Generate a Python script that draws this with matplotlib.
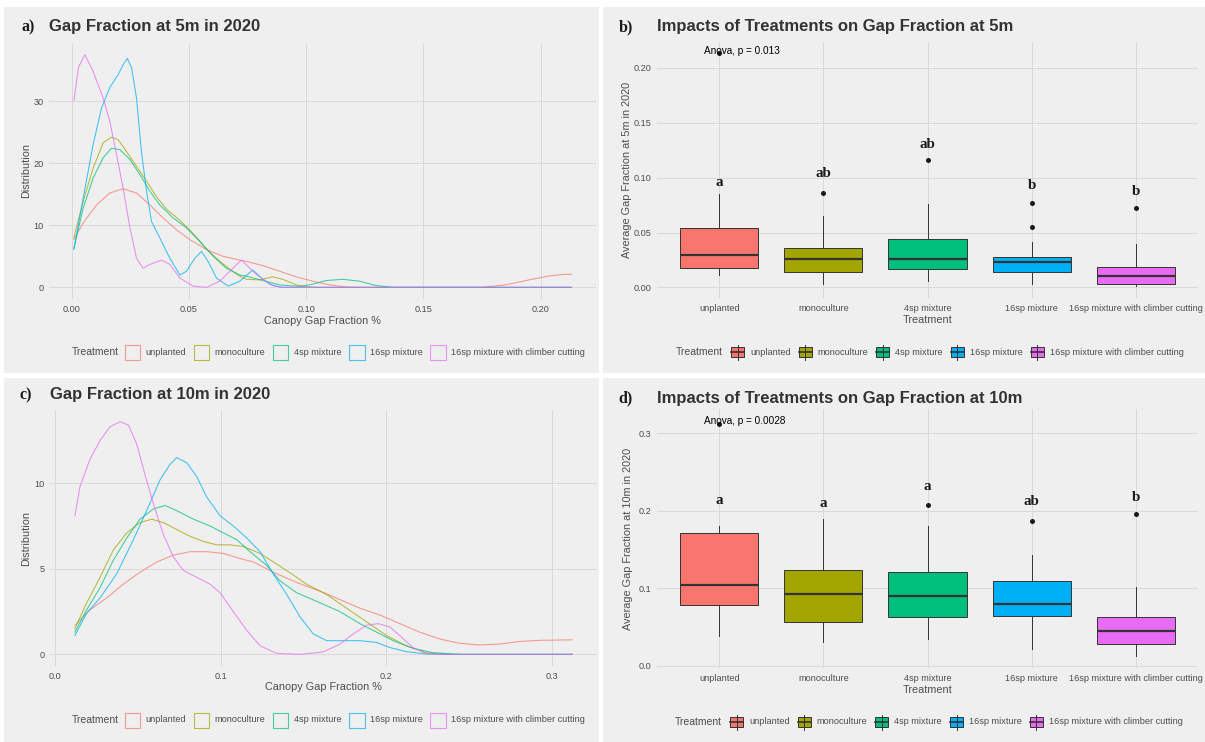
import matplotlib
matplotlib.use("Agg")
import matplotlib.pyplot as plt
from matplotlib.patches import Rectangle
from matplotlib.lines import Line2D

plt.rcParams['font.family'] = ['Liberation Sans', 'DejaVu Sans']

# ---------------- data ----------------
treatments = ['unplanted', 'monoculture', '4sp mixture', '16sp mixture',
              '16sp mixture with climber cutting']
colors = ['#F8766D', '#A3A500', '#00BF7D', '#00B0F6', '#E76BF3']

# density curves, gap fraction at 5m (x = gap fraction, y = density)
dens5_unplanted = [(0.001, 7.7), (0.005, 10.4), (0.0107, 13.3), (0.0163, 15.2), (0.022, 15.9),
                   (0.0277, 15.2), (0.0334, 13.3), (0.039, 11.2), (0.0447, 9.3), (0.0504, 7.7),
                   (0.0575, 6.1), (0.0646, 5.0), (0.0717, 4.4), (0.0745, 4.2), (0.0816, 3.5),
                   (0.0887, 2.6), (0.0958, 1.7), (0.1028, 1.0), (0.11, 0.4), (0.117, 0.05),
                   (0.125, 0.0), (0.175, 0.0), (0.185, 0.4), (0.195, 1.2), (0.203, 1.8),
                   (0.21, 2.1), (0.213, 2.1)]
dens5_mono = [(0.001, 8.0), (0.005, 13.9), (0.0092, 19.2), (0.0135, 23.3), (0.017, 24.2),
              (0.0199, 23.8), (0.0234, 21.9), (0.0277, 19.5), (0.032, 17.1), (0.0362, 14.6),
              (0.0405, 12.6), (0.0462, 10.8), (0.0518, 8.7), (0.0575, 6.2), (0.0632, 4.2),
              (0.0689, 2.5), (0.0717, 1.8), (0.0745, 1.3), (0.0802, 1.2), (0.0858, 1.7),
              (0.09, 1.3), (0.0958, 0.4), (0.10, 0.1), (0.105, 0.0), (0.213, 0.0)]
dens5_4sp = [(0.001, 6.3), (0.005, 12.8), (0.0092, 17.6), (0.0135, 20.9), (0.017, 22.4),
             (0.0206, 22.2), (0.0249, 20.6), (0.0291, 18.2), (0.0334, 15.5), (0.0376, 13.3),
             (0.0433, 11.2), (0.049, 9.6), (0.0547, 7.4), (0.0604, 5.0), (0.066, 3.1),
             (0.0717, 2.0), (0.0745, 1.8), (0.0816, 1.1), (0.0887, 0.4), (0.0972, 0.15),
             (0.1028, 0.5), (0.1085, 1.1), (0.1156, 1.3), (0.1227, 1.0), (0.1297, 0.3),
             (0.137, 0.0), (0.213, 0.0)]
dens5_16sp = [(0.001, 6.1), (0.005, 14.4), (0.0092, 23.0), (0.0128, 28.9), (0.0163, 32.2),
              (0.0199, 34.3), (0.0222, 36.0), (0.0238, 36.9), (0.0256, 35.4), (0.0277, 30.5),
              (0.0298, 21.9), (0.032, 15.5), (0.0341, 10.6), (0.0376, 8.0), (0.0419, 4.7),
              (0.0462, 2.0), (0.049, 2.6), (0.0526, 4.7), (0.0554, 5.8), (0.0582, 4.2),
              (0.0618, 1.5), (0.0668, 0.2), (0.0717, 1.0), (0.0773, 2.8), (0.0816, 1.3),
              (0.0858, 0.3), (0.09, 0.0), (0.213, 0.0)]
dens5_climber = [(0.001, 30.1), (0.003, 35.5), (0.0057, 37.5), (0.0092, 34.8), (0.0135, 30.5),
                 (0.0163, 26.8), (0.0192, 21.4), (0.022, 16.0), (0.0249, 9.6), (0.0277, 4.7),
                 (0.0305, 3.1), (0.0334, 3.7), (0.0384, 4.4), (0.0419, 3.7), (0.0462, 1.5),
                 (0.0518, 0.2), (0.0575, 0.0), (0.0632, 1.0), (0.0689, 3.1), (0.0724, 4.4),
                 (0.0788, 2.1), (0.0844, 0.5), (0.0887, 0.05), (0.095, 0.0), (0.213, 0.0)]

# density curves, gap fraction at 10m
dens10_unplanted = [(0.012, 1.7), (0.0211, 2.6), (0.0312, 3.3), (0.0412, 4.1), (0.0513, 4.8),
                    (0.0614, 5.4), (0.0714, 5.8), (0.0815, 6.0), (0.0915, 6.0), (0.1016, 5.9),
                    (0.1117, 5.6), (0.1197, 5.4), (0.1317, 4.8), (0.1458, 4.2), (0.1598, 3.7),
                    (0.1719, 3.2), (0.1839, 2.7), (0.196, 2.3), (0.208, 1.8), (0.22, 1.3),
                    (0.232, 0.9), (0.244, 0.65), (0.256, 0.55), (0.268, 0.6), (0.28, 0.75),
                    (0.292, 0.82), (0.312, 0.85)]
dens10_mono = [(0.012, 1.5), (0.0191, 3.0), (0.0272, 4.5), (0.0352, 6.1), (0.0433, 7.1),
               (0.0513, 7.7), (0.0584, 7.9), (0.0654, 7.7), (0.0734, 7.3), (0.0815, 6.9),
               (0.0895, 6.6), (0.0976, 6.4), (0.1056, 6.4), (0.1137, 6.3), (0.1237, 5.9),
               (0.1398, 4.9), (0.1518, 4.1), (0.1639, 3.5), (0.1759, 2.7), (0.188, 1.9),
               (0.2, 1.1), (0.212, 0.5), (0.224, 0.1), (0.236, 0.0), (0.312, 0.0)]
dens10_4sp = [(0.012, 1.3), (0.0191, 2.6), (0.0272, 3.9), (0.0352, 5.5), (0.0433, 6.8),
              (0.0513, 7.9), (0.0594, 8.5), (0.0664, 8.7), (0.0734, 8.4), (0.0835, 7.9),
              (0.0936, 7.5), (0.1016, 7.1), (0.1097, 6.7), (0.1177, 6.0), (0.1277, 5.2),
              (0.1357, 4.3), (0.1458, 3.6), (0.1578, 3.1), (0.1719, 2.5), (0.1839, 1.8),
              (0.194, 1.3), (0.204, 0.8), (0.216, 0.35), (0.228, 0.1), (0.245, 0.0),
              (0.312, 0.0)]
dens10_16sp = [(0.012, 1.1), (0.0191, 2.4), (0.0272, 3.3), (0.0372, 4.7), (0.0473, 6.7),
               (0.0553, 8.4), (0.0634, 10.2), (0.0694, 11.1), (0.0734, 11.5), (0.0795, 11.2),
               (0.0855, 10.4), (0.0915, 9.2), (0.0996, 8.1), (0.1076, 7.5), (0.1157, 6.8),
               (0.1237, 6.0), (0.1317, 4.7), (0.1398, 3.5), (0.1478, 2.2), (0.1558, 1.2),
               (0.1639, 0.8), (0.1739, 0.8), (0.1839, 0.8), (0.194, 0.7), (0.202, 0.4),
               (0.212, 0.16), (0.224, 0.02), (0.235, 0.0), (0.312, 0.0)]
dens10_climber = [(0.012, 8.1), (0.0151, 9.8), (0.0211, 11.4), (0.0272, 12.5), (0.0332, 13.3),
                  (0.0392, 13.6), (0.0443, 13.4), (0.0493, 12.3), (0.0543, 10.5), (0.0594, 8.8),
                  (0.0654, 7.0), (0.0714, 5.7), (0.0775, 4.9), (0.0855, 4.5), (0.0936, 4.1),
                  (0.0996, 3.6), (0.1076, 2.5), (0.1157, 1.4), (0.1237, 0.5), (0.1337, 0.06),
                  (0.1478, 0.0), (0.1618, 0.14), (0.1719, 0.6), (0.18, 1.2), (0.188, 1.7),
                  (0.195, 1.8), (0.202, 1.6), (0.208, 1.1), (0.216, 0.4), (0.224, 0.04),
                  (0.232, 0.0), (0.312, 0.0)]

# boxplot statistics at 5m: (whisker low, q1, median, q3, whisker high)
box5_stats = [(0.011, 0.0173, 0.0294, 0.0543, 0.085),
              (0.0036, 0.0143, 0.0258, 0.0364, 0.065),
              (0.006, 0.0164, 0.0255, 0.0443, 0.0759),
              (0.0036, 0.0143, 0.0234, 0.0273, 0.0416),
              (0.0012, 0.0036, 0.0106, 0.0182, 0.0395)]
box5_outliers = [[0.2135], [0.086], [0.1165], [0.0552, 0.077], [0.0728]]
box5_letters = ['a', 'ab', 'ab', 'b', 'b']
box5_letter_y = [0.096, 0.104, 0.130, 0.093, 0.087]
anova5 = 'Anova, p = 0.013'

# boxplot statistics at 10m
box10_stats = [(0.039, 0.079, 0.104, 0.172, 0.181),
               (0.031, 0.057, 0.0925, 0.124, 0.190),
               (0.034, 0.063, 0.090, 0.1205, 0.181),
               (0.021, 0.0646, 0.080, 0.110, 0.143),
               (0.0125, 0.0276, 0.0448, 0.0624, 0.102)]
box10_outliers = [[0.312], [], [0.2075], [0.187], [0.196]]
box10_letters = ['a', 'a', 'a', 'ab', 'b']
box10_letter_y = [0.213, 0.210, 0.232, 0.212, 0.217]
anova10 = 'Anova, p = 0.0028'

# ---------------- layout helpers ----------------
W, H = 1205, 742
bg = '#efefef'
grid_col = '#d9d9d9'
txt_col = '#4d4d4d'

fig = plt.figure(figsize=(W / 100, H / 100), dpi=100)
fig.patch.set_facecolor('white')
renderer = fig.canvas.get_renderer()


def rect_px(l, t, r, b):
    return [l / W, 1 - b / H, (r - l) / W, (b - t) / H]


# gray panel backgrounds
for (l, t, r, b) in [(4, 7, 599, 373), (603, 7, 1205, 373), (4, 378, 599, 742), (603, 378, 1205, 742)]:
    fig.add_artist(Rectangle((l / W, 1 - b / H), (r - l) / W, (b - t) / H,
                             transform=fig.transFigure, facecolor=bg, edgecolor='none', zorder=-10))


def style_axes(ax):
    ax.set_facecolor(bg)
    for s in ax.spines.values():
        s.set_visible(False)
    ax.grid(True, color=grid_col, linewidth=0.7)
    ax.set_axisbelow(True)
    ax.tick_params(length=0, labelsize=6.6, labelcolor=txt_col, pad=4)


def add_title(tag, title, x_tag, x_title, y):
    fig.text(x_tag / W, 1 - y / H, tag, family='Liberation Serif', fontweight='bold',
             fontsize=11.5, va='center', ha='left', color='#1a1a1a')
    fig.text(x_title / W, 1 - y / H, title, fontweight='bold', fontsize=12,
             va='center', ha='left', color='#333333')


def density_panel(ax, series, xticks, xlabels, yticks, xlim, ylim):
    style_axes(ax)
    for data, c in zip(series, colors):
        xs = [p[0] for p in data]
        ys = [p[1] for p in data]
        ax.plot(xs, ys, color=c, linewidth=0.75, alpha=0.75, solid_joinstyle='round')
    ax.set_xlim(*xlim)
    ax.set_ylim(*ylim)
    ax.set_xticks(xticks)
    ax.set_xticklabels(xlabels)
    ax.set_yticks(yticks)
    ax.set_xlabel('Canopy Gap Fraction %', fontsize=7.8, color=txt_col)
    ax.set_ylabel('Distribution', fontsize=7.8, color=txt_col)


def box_panel(ax, stats, outliers, letters, letter_y, anova, anova_y, ylabel, yticks, ylabels, ylim):
    style_axes(ax)
    bxp_stats = []
    for i, (lo, q1, med, q3, hi) in enumerate(stats):
        bxp_stats.append({'whislo': lo, 'q1': q1, 'med': med, 'q3': q3, 'whishi': hi,
                          'fliers': outliers[i], 'label': treatments[i]})
    bp = ax.bxp(bxp_stats, positions=range(1, 6), widths=0.75, patch_artist=True,
                showcaps=False,
                boxprops=dict(edgecolor='#333333', linewidth=0.7),
                medianprops=dict(color='#333333', linewidth=1.6),
                whiskerprops=dict(color='#333333', linewidth=0.7),
                flierprops=dict(marker='o', markerfacecolor='#1a1a1a', markeredgecolor='none',
                                markersize=3.6))
    for patch, c in zip(bp['boxes'], colors):
        patch.set_facecolor(c)
    for i, (lab, ly) in enumerate(zip(letters, letter_y)):
        ax.text(i + 1, ly, lab, family='Liberation Serif', fontweight='bold', fontsize=10.8,
                ha='center', va='center', color='#1a1a1a')
    ax.text(0.85, anova_y, anova, fontsize=7.2, ha='left', va='center', color='black')
    ax.set_xlim(0.4, 5.6)
    ax.set_ylim(*ylim)
    ax.set_xticks(range(1, 6))
    ax.set_xticklabels(treatments)
    ax.set_yticks(yticks)
    ax.set_yticklabels(ylabels)
    ax.set_xlabel('Treatment', fontsize=7.8, color=txt_col)
    ax.set_ylabel(ylabel, fontsize=7.8, color=txt_col)


def text_width(t):
    return t.get_window_extent(renderer).width


def legend_row(y, title_x, kind):
    # legend drawn left to right, spacing
    t = fig.text(title_x / W, 1 - y / H, 'Treatment', fontsize=7.5, color=txt_col, va='center', ha='left')
    x = title_x + text_width(t)
    if kind == 'density':
        gap_title, key_w, gap_key, gap_next = 6, 15.5, 5.5, 7.5
    else:
        gap_title, key_w, gap_key, gap_next = 8, 13, 6, 8
    x += gap_title
    for name, c in zip(treatments, colors):
        if kind == 'density':
            fig.add_artist(Rectangle((x / W, 1 - (y + 7.5) / H), key_w / W, 15 / H,
                                     transform=fig.transFigure, facecolor='none', edgecolor=c,
                                     linewidth=0.8, alpha=0.7))
        else:
            cx = x + key_w / 2
            fig.add_artist(Line2D([cx / W, cx / W], [1 - (y - 7.5) / H, 1 - (y + 7.5) / H],
                                  transform=fig.transFigure, color='#333333', linewidth=0.7))
            fig.add_artist(Rectangle((x / W, 1 - (y + 5) / H), key_w / W, 10 / H,
                                     transform=fig.transFigure, facecolor=c, edgecolor='#333333',
                                     linewidth=0.7))
            fig.add_artist(Line2D([x / W, (x + key_w) / W], [1 - y / H, 1 - y / H],
                                  transform=fig.transFigure, color='#333333', linewidth=1.2))
        x += key_w + gap_key
        t = fig.text(x / W, 1 - y / H, name, fontsize=6.55, color=txt_col, va='center', ha='left')
        x += text_width(t) + gap_next


# ---------------- panel a ----------------
ax_a = fig.add_axes(rect_px(49, 43, 596, 299))
density_panel(ax_a, [dens5_unplanted, dens5_mono, dens5_4sp, dens5_16sp, dens5_climber],
              [0, 0.05, 0.10, 0.15, 0.20], ['0.00', '0.05', '0.10', '0.15', '0.20'],
              [0, 10, 20, 30], (-0.0096, 0.2236), (-1.875, 39.375))
ax_a.yaxis.set_label_coords(-0.032, 0.5)
ax_a.xaxis.set_label_coords(0.5, -0.068)
add_title('a)', 'Gap Fraction at 5m in 2020', 21, 49, 27)
legend_row(352, 71.6, 'density')

# ---------------- panel b ----------------
ax_b = fig.add_axes(rect_px(657, 42, 1198, 298))
box_panel(ax_b, box5_stats, box5_outliers, box5_letters, box5_letter_y, anova5, 0.215,
          'Average Gap Fraction at 5m in 2020', [0, 0.05, 0.10, 0.15, 0.20],
          ['0.00', '0.05', '0.10', '0.15', '0.20'], (-0.0096, 0.2236))
ax_b.yaxis.set_label_coords(-0.047, 0.5)
ax_b.xaxis.set_label_coords(0.5, -0.068)
add_title('b)', 'Impacts of Treatments on Gap Fraction at 5m', 619, 657, 27)
legend_row(352, 676, 'box')

# ---------------- panel c ----------------
ax_c = fig.add_axes(rect_px(50, 410, 597, 666))
density_panel(ax_c, [dens10_unplanted, dens10_mono, dens10_4sp, dens10_16sp, dens10_climber],
              [0, 0.1, 0.2, 0.3], ['0.0', '0.1', '0.2', '0.3'],
              [0, 5, 10], (-0.003, 0.327), (-0.68, 14.28))
ax_c.yaxis.set_label_coords(-0.034, 0.5)
ax_c.xaxis.set_label_coords(0.5, -0.064)
add_title('c)', 'Gap Fraction at 10m in 2020', 19, 50, 395)
legend_row(720, 71.6, 'density')

# ---------------- panel d ----------------
ax_d = fig.add_axes(rect_px(657, 408.6, 1198, 668.3))
box_panel(ax_d, box10_stats, box10_outliers, box10_letters, box10_letter_y, anova10, 0.316,
          'Average Gap Fraction at 10m in 2020', [0, 0.1, 0.2, 0.3],
          ['0.0', '0.1', '0.2', '0.3'], (-0.0033, 0.332))
ax_d.yaxis.set_label_coords(-0.045, 0.5)
ax_d.xaxis.set_label_coords(0.5, -0.066)
add_title('d)', 'Impacts of Treatments on Gap Fraction at 10m', 618, 657, 398)
legend_row(722, 675, 'box')

fig.savefig('out.png', dpi=100, facecolor='white')
